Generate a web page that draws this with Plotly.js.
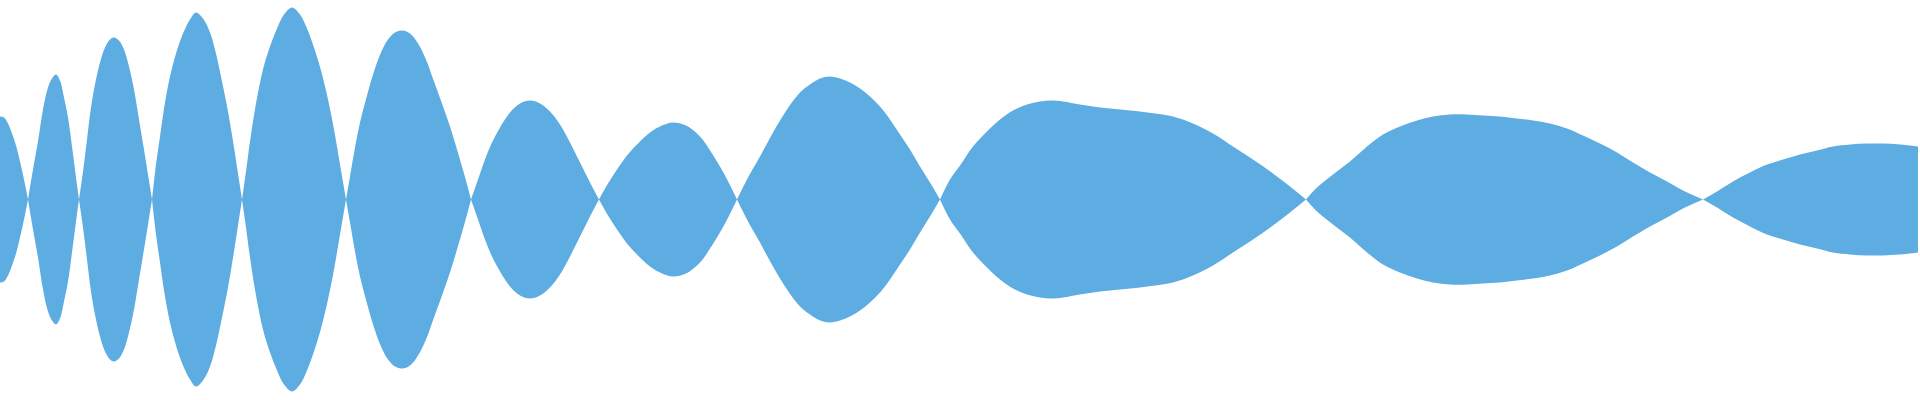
<!DOCTYPE html>
<html>
<head>
<meta charset="utf-8">
<script src="https://cdn.plot.ly/plotly-3.0.1.min.js"></script>
<style>
html,body{margin:0;padding:0;background:#ffffff;}
#chart{width:1920px;height:400px;}
</style>
</head>
<body>
<div id="chart"></div>
<script>
// Sample positions along the stream and half-thickness of the stream (zeros are pinch points)
var positions = [
  0,4,8,12,16,20,24,28,
  33,38,43,48,52,56,60,64,68,72,76,79,
  83,87,91,95,100,105,110,114,119,124,129,134,139,144,148,152,
  156,160,165,170,176,183,190,196,203,210,216,222,228,234,238,242,
  246,250,256,263,270,277,284,292,300,307,314,321,328,334,340,346,
  350,355,360,367,374,381,388,395,402,410,418,426,434,442,450,457,464,471,
  478,485,492,500,510,520,530,540,550,560,570,580,590,599,
  608,617,627,638,650,662,673,686,700,712,725,737,
  747,760,773,787,800,810,820,830,840,850,860,870,880,890,900,910,920,930,940,
  950,960,973,987,1000,1013,1027,1040,1052,1063,1080,1100,1120,1140,1155,1173,1193,1213,1233,1253,1273,1290,1306,
  1317,1333,1350,1367,1383,1400,1417,1433,1450,1467,1483,1500,1517,1533,1550,1567,1583,1600,1617,1633,1650,1667,1683,1703,
  1717,1733,1750,1767,1783,1800,1817,1833,1850,1867,1883,1900,1918
];
var thickness = [
  83,82,76,66,54,38,20,0,
  30,58,90,112,121,125,119,102,82,53,22,0,
  28,60,92,115,137,152,160,162,159,150,133,110,80,50,25,0,
  35,63,97,123,146,166,180,187,181,167,146,118,88,52,26,0,
  28,58,96,130,153,171,185,192,185,171,152,129,100,70,35,0,
  23,52,77,104,128,147,160,167,169,166,156,140,118,96,73,50,26,0,
  20,40,57,72,87,96,99,96,88,75,57,37,17,0,
  16,30,44,56,67,74,77,74,63,46,24,0,
  20,43,67,90,107,115,121,123,121,117,111,103,93,80,65,50,33,17,0,
  20,34,53,68,80,89,95,98,99,98,95,92,90,88,86,83,76,66,53,40,26,13,0,
  12,25,38,53,65,73,79,83,85,85,84,83,81,79,76,71,64,56,47,37,27,18,9,0,
  8,18,27,35,40,45,49,53,55,56,56,55,53
];
var fillColor = '#5dade2';

// split into lobes at the pinch points (value 0)
var lobes = [];
var cur = {x: [], v: []};
for (var i = 0; i < positions.length; i++) {
  cur.x.push(positions[i]);
  cur.v.push(thickness[i]);
  if (thickness[i] === 0 && cur.x.length > 1) {
    lobes.push(cur);
    cur = {x: [positions[i]], v: [0]};
  }
}
if (cur.x.length > 1) lobes.push(cur);

var traces = [];
lobes.forEach(function (l) {
  // lower edge (no fill) then upper edge filled to it: one polygon per lobe
  traces.push({
    x: l.x, y: l.v.map(function (d) { return -d; }), type: 'scatter', mode: 'lines',
    line: {shape: 'spline', smoothing: 1, simplify: false, width: 0, color: fillColor},
    hoverinfo: 'skip', showlegend: false
  });
  traces.push({
    x: l.x, y: l.v, type: 'scatter', mode: 'lines',
    line: {shape: 'spline', smoothing: 1, simplify: false, width: 0, color: fillColor},
    fill: 'tonexty', fillcolor: fillColor, hoverinfo: 'skip', showlegend: false
  });
});

var layout = {
  width: 1920, height: 400,
  margin: {l: 0, r: 0, t: 0, b: 0, pad: 0},
  paper_bgcolor: '#ffffff', plot_bgcolor: '#ffffff',
  showlegend: false,
  xaxis: {range: [0, 1920], visible: false, fixedrange: true},
  yaxis: {range: [-200.5, 199.5], visible: false, fixedrange: true}
};
Plotly.newPlot('chart', traces, layout, {staticPlot: true, displayModeBar: false});
</script>
</body>
</html>
